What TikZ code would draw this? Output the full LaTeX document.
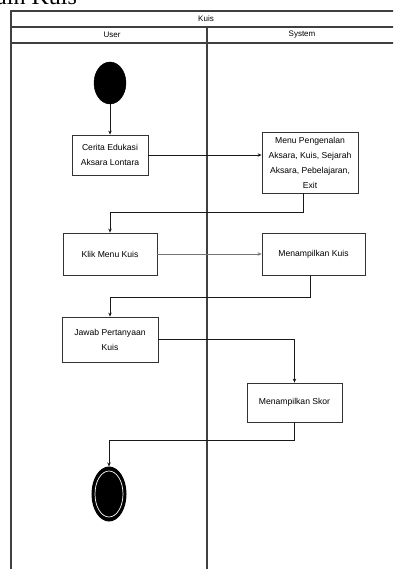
\documentclass[tikz,border=0pt]{standalone}
\usepackage{fontspec}
\setmainfont{Liberation Sans}
\newfontfamily\titlefont{Liberation Serif}
\usetikzlibrary{arrows.meta,shapes.geometric}

\begin{document}
\begin{tikzpicture}[x=1pt,y=-1pt,
  action/.style={draw=black!80, line width=0.8pt, fill=white, align=center,
    font=\fontsize{8.6}{15}\selectfont, inner sep=2pt},
  flow/.style={draw=black!90, line width=0.8pt, -{Stealth[length=4pt,width=3.5pt]}},
  lane/.style={draw=black!75, line width=1.2pt},
  hdr/.style={font=\fontsize{8}{9}\selectfont},
  startnode/.style={ellipse, fill=black, draw=black, minimum width=32pt, minimum height=42pt, inner sep=0pt},
  endnode/.style={ellipse, fill=black, draw=black, line width=1pt, minimum width=34pt, minimum height=54pt, inner sep=0pt,
    path picture={\draw[white, line width=0.7pt] (path picture bounding box.center) ellipse (14pt and 23pt);}}]
\useasboundingbox (0,0) rectangle (393,569);
\clip (0,0) rectangle (393,569);

% heading above the diagram, running off the top edge
\node[font=\titlefont\fontsize{24}{24}\selectfont, anchor=base west, inner sep=0pt] (title) at (-4,5) {ain Kuis};

% swimlane frame
\draw[lane] (11,575) -- (11,11) -- (400,11);
\draw[lane] (11,27) -- (400,27);
\draw[lane] (11,43) -- (400,43);
\draw[lane] (207,27) -- (207,575);
\node[hdr] (kuis) at (206,19) {Kuis};
\node[hdr] (user) at (112,35) {User};
\node[hdr] (system) at (302,35) {System};

% activity nodes
\node[startnode] (start) at (110,83) {};
\node[action, minimum width=76pt, minimum height=40pt] (a1) at (110,155) {Cerita Edukasi\\Aksara Lontara};
\node[action, minimum width=96pt, minimum height=61pt] (a2) at (310,162.5) {Menu Pengenalan\\Aksara, Kuis, Sejarah\\Aksara, Pebelajaran,\\Exit};
\node[action, minimum width=94pt, minimum height=42pt] (a3) at (110,254) {Klik Menu Kuis};
\node[action, minimum width=103pt, minimum height=42pt] (a4) at (313.5,254) {Menampilkan Kuis};
\node[action, minimum width=96pt, minimum height=45pt] (a5) at (110,339.5) {Jawab Pertanyaan\\Kuis};
\node[action, minimum width=95pt, minimum height=39pt] (a6) at (294.5,402.5) {Menampilkan Skor};
\node[endnode] (finish) at (109,494) {};

% bend points
\coordinate (k1) at (0,212);
\coordinate (k2) at (0,297);
\coordinate (k3) at (0,440);

% control flow
\draw[flow] (start) -- (a1);
\draw[flow] (a1.east) -- (a1.east -| a2.west);
\draw[flow] ([xshift=-7pt]a2.south) |- (k1 -| a3.north) -- (a3.north);
\draw[flow, draw=black!55] (a3.east) -- (a4.west);
\draw[flow] ([xshift=-3.5pt]a4.south) |- (k2 -| a5.north) -- (a5.north);
\draw[flow] (a5.east) -| (a6.north);
\draw[flow] (a6.south) |- (k3 -| finish.north) -- (finish.north);
\end{tikzpicture}
\end{document}
